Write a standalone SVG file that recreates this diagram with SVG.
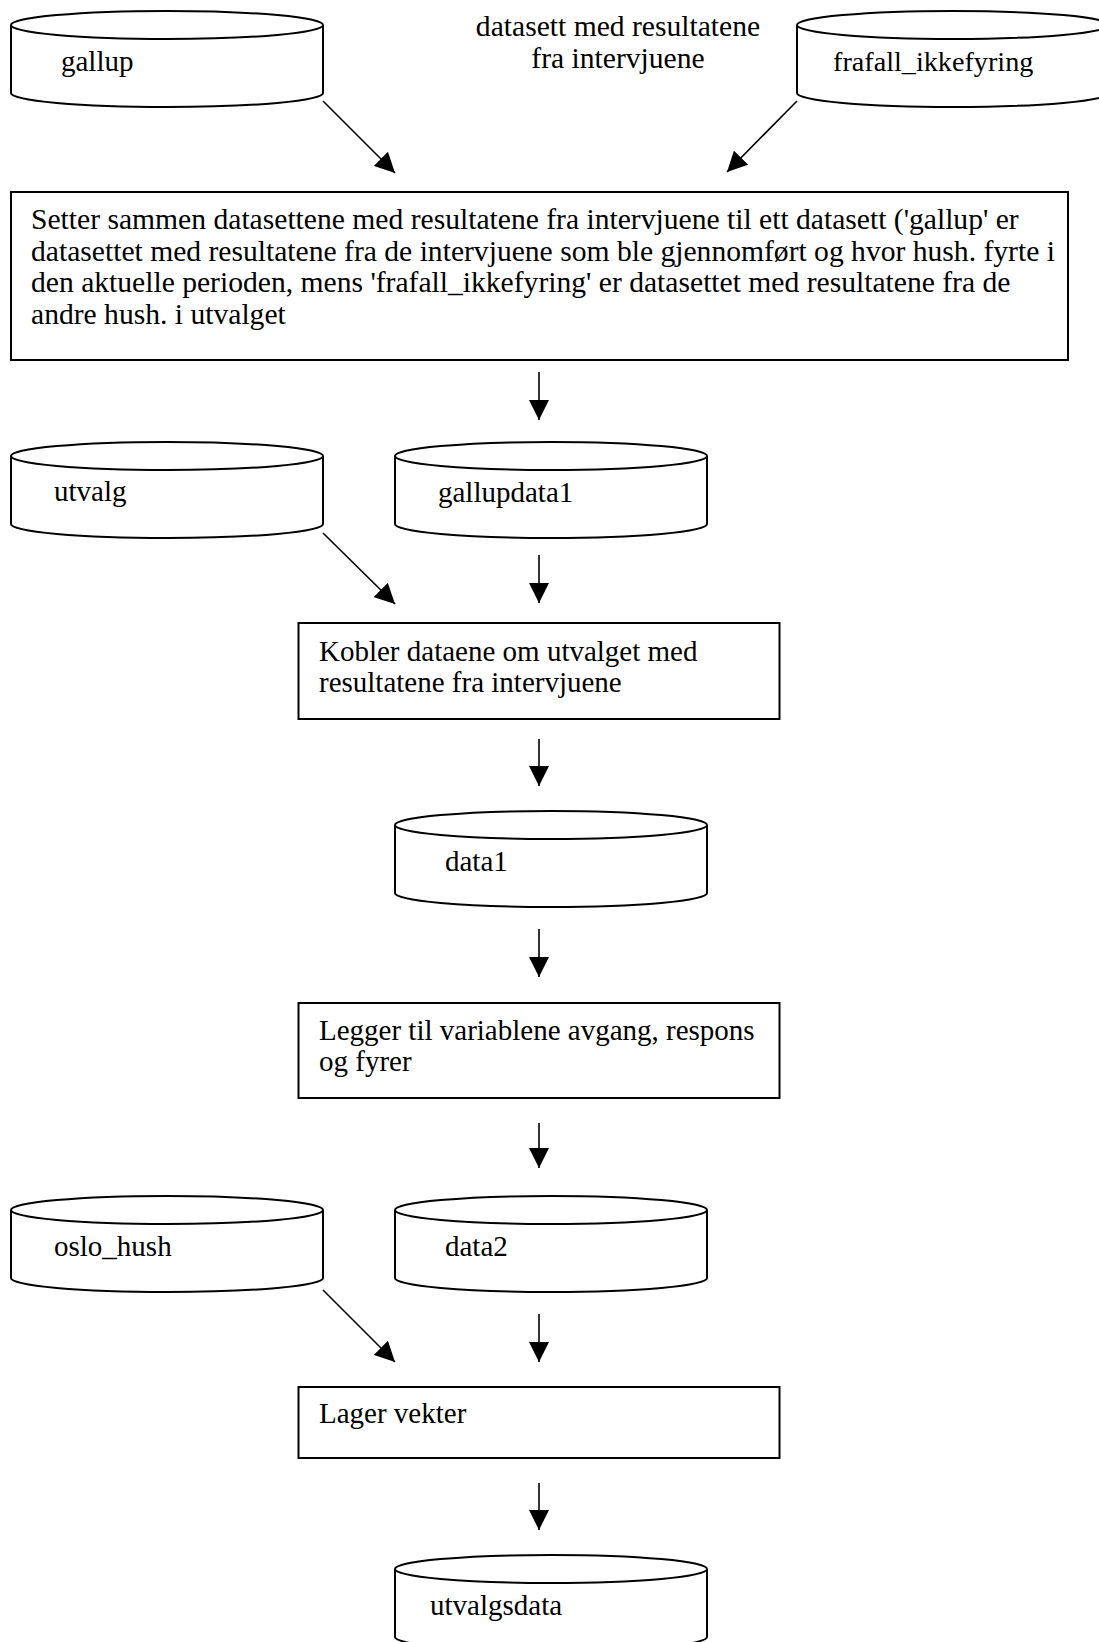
<svg xmlns="http://www.w3.org/2000/svg" width="1099" height="1642" viewBox="0 0 1099 1642">
<style>
text{font-family:"Liberation Serif","Times New Roman",serif;font-size:29px;fill:#000}
.big{font-size:29.6px}
.box{fill:#fff;stroke:#000;stroke-width:2}
.cyl{fill:#fff;stroke:#000;stroke-width:2}
.edge{stroke:#000;stroke-width:1.6;fill:none;marker-end:url(#ah)}
</style>
<defs>
<marker id="ah" markerUnits="userSpaceOnUse" markerWidth="20" markerHeight="20" refX="20" refY="10" orient="auto" viewBox="0 0 20 20">
<path d="M0,0 L20,10 L0,20 z" fill="#000"/>
</marker>
<g id="cylshape">
<path class="cyl" d="M0,14 L0,82 A156,14 0 0 0 312,82 L312,14"/>
<ellipse class="cyl" cx="156" cy="14" rx="156" ry="14"/>
</g>
</defs>
<rect width="1099" height="1642" fill="#fff"/>

<g id="note">
<text class="big" x="618" y="36" text-anchor="middle">datasett med resultatene</text>
<text class="big" x="618" y="68" text-anchor="middle">fra intervjuene</text>
</g>

<g id="gallup">
<use href="#cylshape" x="11" y="11"/>
<text x="61" y="71">gallup</text>
</g>
<g id="frafall_ikkefyring">
<use href="#cylshape" x="797" y="11"/>
<text x="833" y="71" style="font-size:28.2px">frafall_ikkefyring</text>
</g>

<g id="setter_sammen">
<rect class="box" x="11" y="192" width="1057" height="168"/>
<text class="big" x="31" y="229">Setter sammen datasettene med resultatene fra intervjuene til ett datasett ('gallup' er</text>
<text class="big" x="31" y="261">datasettet med resultatene fra de intervjuene som ble gjennomført og hvor hush. fyrte i</text>
<text class="big" x="31" y="292">den aktuelle perioden, mens 'frafall_ikkefyring' er datasettet med resultatene fra de</text>
<text class="big" x="31" y="324">andre hush. i utvalget</text>
</g>

<g id="utvalg">
<use href="#cylshape" x="11" y="442"/>
<text x="54" y="501">utvalg</text>
</g>
<g id="gallupdata1">
<use href="#cylshape" x="395" y="442"/>
<text x="438" y="502">gallupdata1</text>
</g>

<g id="kobler">
<rect class="box" x="298.5" y="623" width="481" height="96"/>
<text x="319" y="661">Kobler dataene om utvalget med</text>
<text x="319" y="692">resultatene fra intervjuene</text>
</g>

<g id="data1">
<use href="#cylshape" x="395" y="811"/>
<text x="445" y="871">data1</text>
</g>

<g id="legger_til">
<rect class="box" x="298.5" y="1003" width="481" height="95"/>
<text x="319" y="1040">Legger til variablene avgang, respons</text>
<text x="319" y="1071">og fyrer</text>
</g>

<g id="oslo_hush">
<use href="#cylshape" x="11" y="1196"/>
<text x="54" y="1256">oslo_hush</text>
</g>
<g id="data2">
<use href="#cylshape" x="395" y="1196"/>
<text x="445" y="1256">data2</text>
</g>

<g id="lager_vekter">
<rect class="box" x="298.5" y="1387" width="481" height="71"/>
<text x="319" y="1423">Lager vekter</text>
</g>

<g id="utvalgsdata">
<use href="#cylshape" x="395" y="1555"/>
<text x="430" y="1615">utvalgsdata</text>
</g>

<g id="connectors">
<line class="edge" x1="323" y1="101" x2="395" y2="173"/>
<line class="edge" x1="797" y1="101" x2="727" y2="172"/>
<line class="edge" x1="539" y1="372" x2="539" y2="420"/>
<line class="edge" x1="323" y1="533" x2="395" y2="604"/>
<line class="edge" x1="539" y1="555" x2="539" y2="603"/>
<line class="edge" x1="539" y1="739" x2="539" y2="786"/>
<line class="edge" x1="539" y1="929" x2="539" y2="977"/>
<line class="edge" x1="539" y1="1123" x2="539" y2="1168"/>
<line class="edge" x1="323" y1="1290" x2="395" y2="1362"/>
<line class="edge" x1="539" y1="1314" x2="539" y2="1362"/>
<line class="edge" x1="539" y1="1483" x2="539" y2="1530"/>
</g>
</svg>
